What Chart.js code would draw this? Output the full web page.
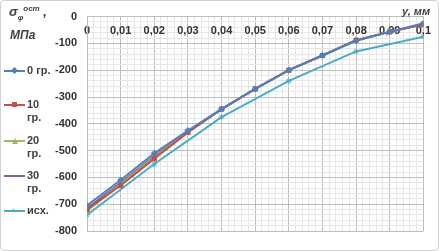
<!DOCTYPE html>
<html>
<head>
<meta charset="utf-8">
<script src="https://cdn.jsdelivr.net/npm/chart.js@4"></script>
<style>
  html, body { margin: 0; padding: 0; background: #fff; }
  #wrap { position: relative; width: 439px; height: 251px; font-family: "Liberation Sans", Arial, sans-serif; }
  #frame { position: absolute; left: 0; top: 0; width: 437px; height: 249px; border: 1px solid #d0d0d0; border-radius: 4px; }
  canvas { position: absolute; left: 0; top: 0; }
  .ttl { position: absolute; font-weight: bold; font-style: italic; color: #404040; }
  .leg { position: absolute; left: 4px; font-size: 11px; font-weight: bold; color: #404040; line-height: 13px; }
  .sw { position: absolute; left: 0; top: 6px; width: 21px; height: 2px; }
  .mk { position: absolute; left: 8px; top: -2px; width: 5px; height: 5px; }
  .lt { position: absolute; left: 23px; top: 0; white-space: nowrap; }
</style>
</head>
<body>
<div id="wrap">
  <div id="frame"></div>
  <canvas id="myChart" width="439" height="251"></canvas>
  <div class="ttl" style="left:9px;top:4px;font-size:13px;">σ<sub style="font-size:8px">φ</sub><sup style="font-size:8px">ост</sup> ,</div>
  <div class="ttl" style="left:10px;top:28px;font-size:12px;">МПа</div>
  <div class="ttl" style="left:402px;top:5px;font-size:11px;">y, мм</div>
  <div id="legend"></div>
</div>
<script>
const xValues = [0, 0.01, 0.02, 0.03, 0.04, 0.05, 0.06, 0.07, 0.08, 0.09, 0.1];
const xTickLabels = ['0', '0,01', '0,02', '0,03', '0,04', '0,05', '0,06', '0,07', '0,08', '0,09', '0,1'];
const seriesNames = ['0 гр.', '10 гр.', '20 гр.', '30 гр.', 'исх.'];
const s0 = [-705, -610, -510, -425, -345, -270, -200, -145, -90, -57, -25];
const s10 = [-720, -630, -530, -432, -345, -270, -200, -145, -88, -57, -30];
const s20 = [-725, -625, -525, -430, -345, -270, -200, -145, -88, -57, -28];
const s30 = [-715, -620, -520, -428, -345, -270, -200, -145, -88, -57, -28];
const xBase = [0, 0.02, 0.04, 0.06, 0.08, 0.1];
const sBase = [-740, -550, -375, -240, -130, -75];

const colors = ['#4F81BD', '#C0504D', '#9BBB59', '#8064A2', '#4BACC6'];
const markers = ['rectRot', 'rect', 'triangle', 'crossRot', 'star'];

const toPts = (xs, ys) => xs.map((x, i) => ({ x: x, y: ys[i] }));
const allData = [toPts(xValues, s0), toPts(xValues, s10), toPts(xValues, s20), toPts(xValues, s30), toPts(xBase, sBase)];

const datasets = allData.map((d, i) => ({
  label: seriesNames[i],
  data: d,
  borderColor: colors[i],
  backgroundColor: colors[i],
  borderWidth: 2,
  pointStyle: markers[i],
  pointRadius: 3,
  pointBorderWidth: 1,
  tension: 0,
}));

const tickFont = { family: 'Liberation Sans', size: 11, weight: 'bold' };

new Chart(document.getElementById('myChart'), {
  type: 'line',
  data: { datasets: datasets },
  options: {
    responsive: false,
    animation: false,
    layout: { padding: { left: 0, right: 14, top: 10, bottom: 20 } },
    plugins: { legend: { display: false }, tooltip: { enabled: false } },
    scales: {
      x: {
        type: 'linear',
        position: { y: 0 },
        min: 0,
        max: 0.1,
        ticks: {
          stepSize: 0.002,
          autoSkip: false,
          maxRotation: 0,
          padding: 8,
          color: '#333',
          font: tickFont,
          callback: (v, i) => (i % 5 === 0 ? xTickLabels[i / 5] : ''),
        },
        grid: {
          drawTicks: false,
          color: (c) => (c.index % 5 === 0 ? '#bdbdbd' : '#e6e6e6'),
        },
        border: { color: '#bdbdbd' },
      },
      y: {
        min: -800,
        max: 0,
        afterFit: (s) => { s.width = 87; },
        ticks: {
          stepSize: 20,
          autoSkip: false,
          padding: 10,
          color: '#333',
          font: tickFont,
          callback: (v, i) => (i % 5 === 0 ? String(v) : ''),
        },
        grid: {
          drawTicks: false,
          color: (c) => (c.index % 5 === 0 ? '#bdbdbd' : '#e6e6e6'),
        },
        border: { color: '#bdbdbd' },
      },
    },
  },
});

// legend (html)
const legendTops = [64, 98, 134, 169, 204];
const legendTexts = ['0 гр.', '10<br>гр.', '20<br>гр.', '30<br>гр.', 'исх.'];
const mkCss = [
  'transform:rotate(45deg);',
  '',
  'width:0;height:0;background:none!important;border-left:3px solid transparent;border-right:3px solid transparent;border-bottom:6px solid ' + colors[2] + ';',
  'display:none;',
  'transform:rotate(45deg);width:5px;height:1px;top:0;',
];
let html = '';
legendTexts.forEach((t, i) => {
  html += '<div class="leg" style="top:' + legendTops[i] + 'px"><span class="sw" style="background:' + colors[i] + '">' +
    '<span class="mk" style="background:' + colors[i] + ';' + mkCss[i] + '"></span></span>' +
    '<span class="lt">' + t + '</span></div>';
});
document.getElementById('legend').innerHTML = html;
</script>
</body>
</html>
